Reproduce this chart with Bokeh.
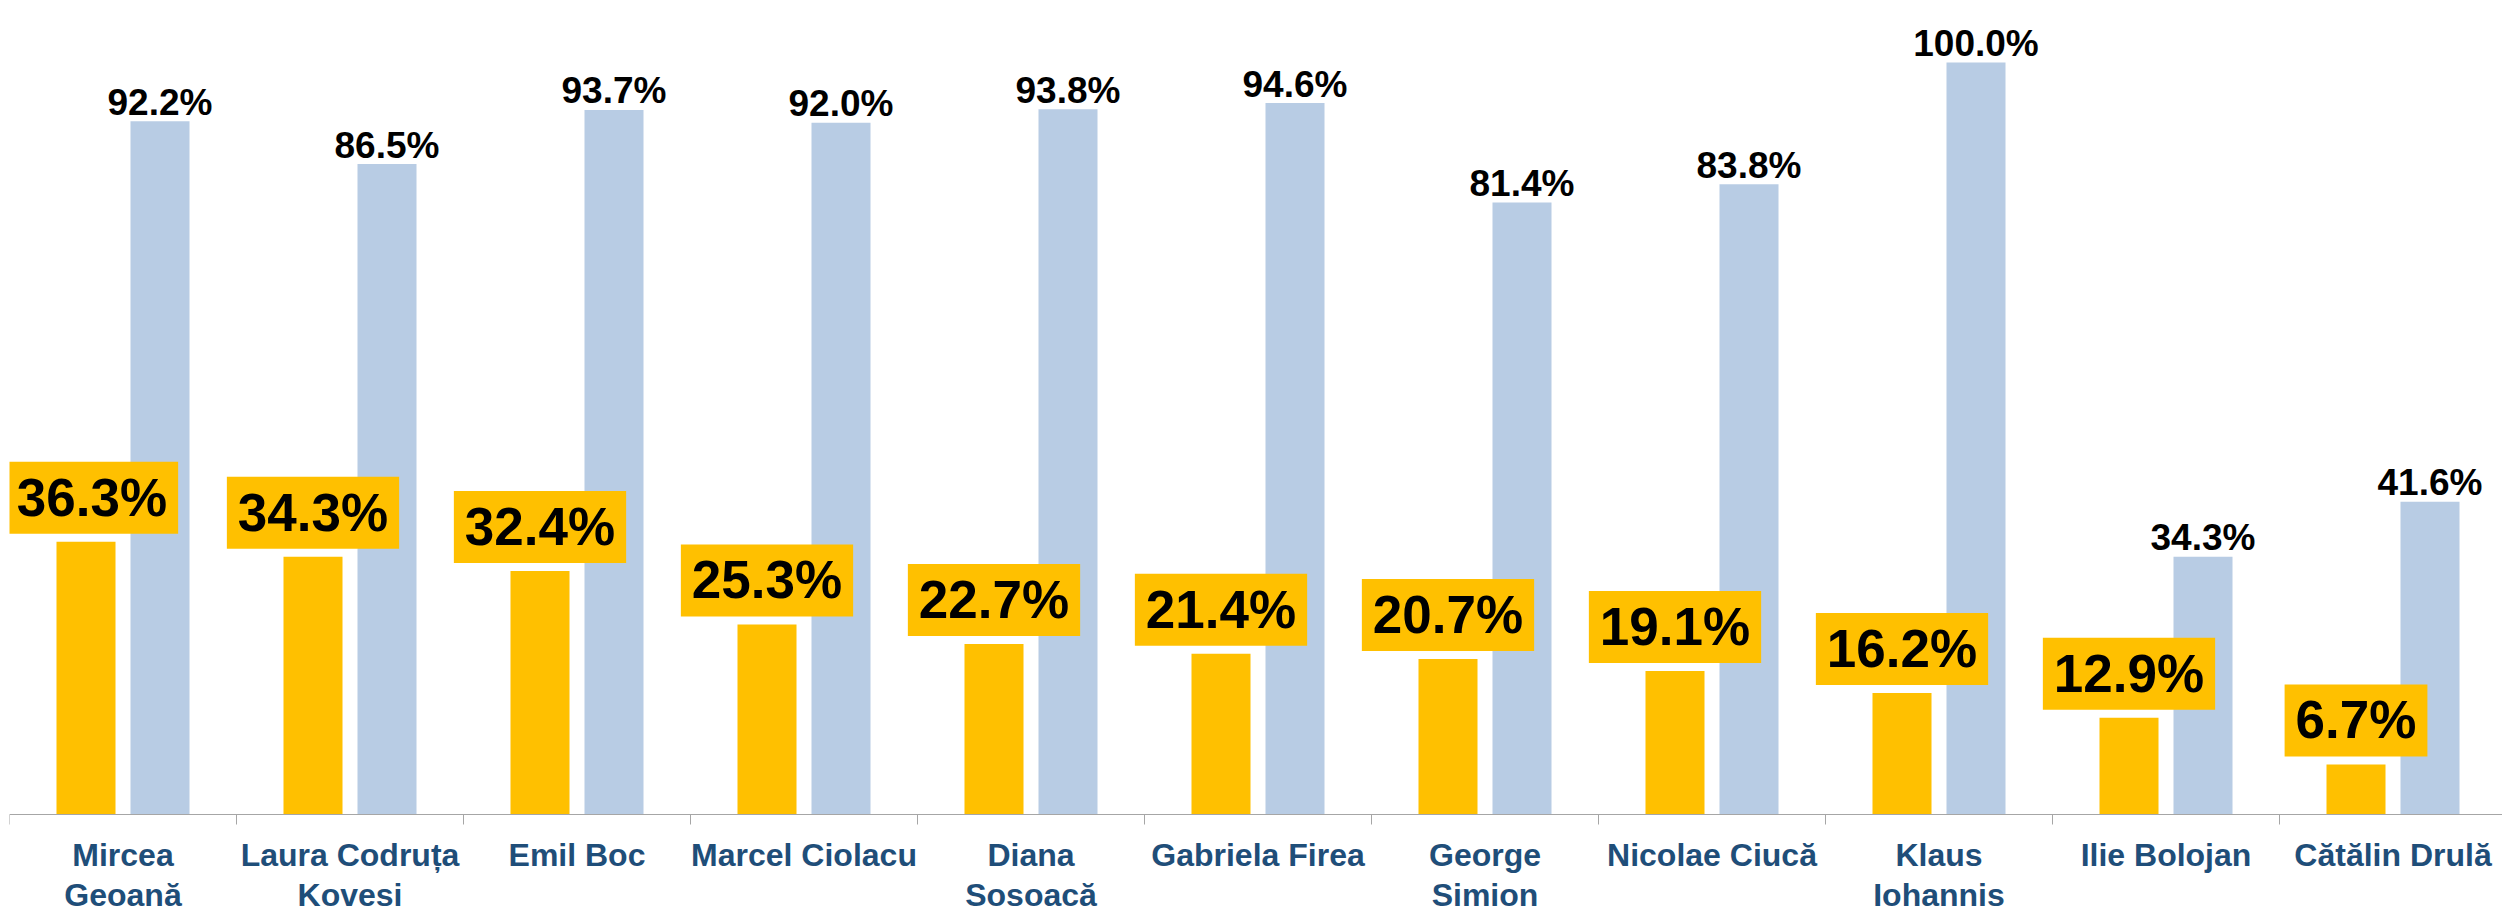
from bokeh.plotting import figure
from bokeh.models import Range1d, LinearAxis, FixedTicker, ColumnDataSource
from bokeh.transform import dodge
from bokeh.core.properties import value
from bokeh.embed import file_html
from bokeh.resources import INLINE

names = ["Mircea\nGeoană", "Laura Codruța\nKovesi", "Emil Boc", "Marcel Ciolacu",
         "Diana\nȘoșoacă", "Gabriela Firea", "George\nSimion", "Nicolae Ciucă",
         "Klaus\nIohannis", "Ilie Bolojan", "Cătălin Drulă"]
gold = [36.3, 34.3, 32.4, 25.3, 22.7, 21.4, 20.7, 19.1, 16.2, 12.9, 6.7]
blue = [92.2, 86.5, 93.7, 92.0, 93.8, 94.6, 81.4, 83.8, 100.0, 34.3, 41.6]

idx = list(range(len(names)))
src = ColumnDataSource(dict(
    idx=idx, gold=gold, blue=blue,
    gold_lbl=[f"{v:.1f}%" for v in gold],
    blue_lbl=[f"{v:.1f}%" for v in blue],
    nudge=[6] + [0] * (len(names) - 1),
))

W, H = 2502, 906
left = 9
cat_px = 227.0
px_per_unit = 7.523
zero_px = 814.3
p = figure(width=W, height=H,
           x_range=Range1d(-0.5, -0.5 + (W - left) / cat_px),
           y_range=Range1d(-(H - zero_px) / px_per_unit, zero_px / px_per_unit),
           output_backend="svg", toolbar_location=None,
           x_axis_type=None, y_axis_type=None,
           min_border_left=left, min_border_right=0, min_border_top=0,
           min_border_bottom=0)
p.outline_line_color = None
p.background_fill_color = "white"
p.border_fill_color = "white"

ax = LinearAxis(ticker=FixedTicker(ticks=idx, minor_ticks=[i - 0.5 for i in range(len(names) + 1)]),
                major_label_overrides={i: n for i, n in zip(idx, names)},
                fixed_location=0,
                major_label_text_font="Liberation Sans",
                major_label_text_font_style="bold",
                major_label_text_font_size="32px",
                major_label_text_color="#1F4E79",
                major_label_text_line_height=1.12,
                major_label_standoff=12,
                major_tick_out=0, major_tick_in=0,
                minor_tick_out=10, minor_tick_in=0,
                axis_line_color="#A6A6A6", axis_line_width=1,
                major_tick_line_color=None, minor_tick_line_color="#A6A6A6")
p.add_layout(ax, "below")

off = 0.163
bw = 0.26
p.vbar(x=dodge("idx", -off, range=p.x_range), top="gold", width=bw, bottom=0,
       source=src, fill_color="#FFC000", line_color=None)
p.vbar(x=dodge("idx", off, range=p.x_range), top="blue", width=bw, bottom=0,
       source=src, fill_color="#B8CCE4", line_color=None)

p.text(x=dodge("idx", off, range=p.x_range), y="blue", text="blue_lbl", source=src,
       text_font=value("Liberation Sans"), text_font_style="bold",
       text_font_size="37px", text_color="black",
       text_align="center", text_baseline="alphabetic", y_offset=-19)

p.text(x=dodge("idx", -off, range=p.x_range), y="gold", text="gold_lbl", source=src,
       text_font=value("Liberation Sans"), text_font_style="bold",
       text_font_size="53px", text_color="black",
       text_align="center", text_baseline="bottom", y_offset=-8, x_offset="nudge",
       background_fill_color="#FFC000",
       padding=dict(left=11, right=11, top=6, bottom=7))

open("out.html", "w").write(file_html(p, INLINE))
